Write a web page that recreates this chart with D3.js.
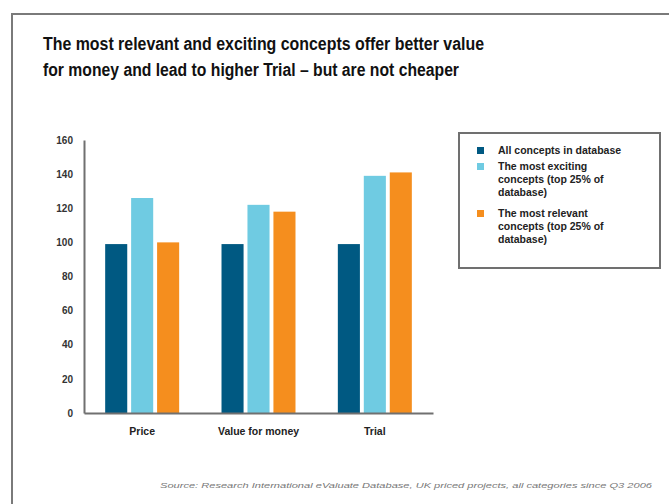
<!DOCTYPE html>
<html>
<head>
<meta charset="utf-8">
<script src="https://cdn.jsdelivr.net/npm/d3@7"></script>
<style>
  html, body { margin: 0; padding: 0; background: #fff; }
  svg { display: block; font-family: "Liberation Sans", Arial, Helvetica, sans-serif; }
</style>
</head>
<body>
<svg id="chart" width="669" height="504"></svg>
<script>
// Measures compared across concept groups (index: database average = 100)
const categories = ["Price", "Value for money", "Trial"];
const seriesNames = [
  "All concepts in database",
  "The most exciting concepts (top 25% of database)",
  "The most relevant concepts (top 25% of database)"
];
const allConcepts = [99, 99, 99];
const mostExciting = [126, 122, 139];
const mostRelevant = [100, 118, 141];
const yTicks = [0, 20, 40, 60, 80, 100, 120, 140, 160];

const legendLines = [
  ["All concepts in database"],
  ["The most exciting", "concepts (top 25% of", "database)"],
  ["The most relevant", "concepts (top 25% of", "database)"]
];
const titleLines = [
  "The most relevant and exciting concepts offer better value",
  "for money and lead to higher Trial \u2013 but are not cheaper"
];
const sourceText = "Source: Research International eValuate Database, UK priced projects, all categories since Q3 2006";

const colors = ["#005982", "#6fcbe2", "#f58e1e"];
const values = [allConcepts, mostExciting, mostRelevant];

const svg = d3.select("#chart");

// Slide frame
svg.append("path")
  .attr("d", "M12,700 L12,14 L700,14")
  .attr("fill", "none")
  .attr("stroke", "#7a7a7a")
  .attr("stroke-width", 2);

// Title
const titleWidths = [441, 416];
svg.append("g").selectAll("text")
  .data(titleLines)
  .join("text")
  .attr("x", 43)
  .attr("y", (d, i) => 50 + i * 26)
  .attr("font-size", 17.5)
  .attr("font-weight", "bold")
  .attr("fill", "#111")
  .attr("textLength", (d, i) => titleWidths[i])
  .attr("lengthAdjust", "spacingAndGlyphs")
  .text(d => d);

// Scales
const plotLeft = 84, plotRight = 433, plotTop = 140, plotBottom = 413;
const x0 = d3.scaleBand()
  .domain(categories)
  .range([plotLeft, plotRight])
  .paddingInner(0.364)
  .paddingOuter(0.182);
const x1 = d3.scaleBand()
  .domain(d3.range(seriesNames.length))
  .range([0, x0.bandwidth()])
  .paddingInner(0.15);
const y = d3.scaleLinear()
  .domain([0, 160])
  .range([plotBottom, plotTop]);

// Bars
const groups = svg.append("g")
  .selectAll("g")
  .data(categories)
  .join("g")
  .attr("transform", d => `translate(${x0(d)},0)`);

groups.selectAll("rect")
  .data((d, ci) => values.map((v, si) => ({ si, v: v[ci] })))
  .join("rect")
  .attr("x", d => x1(d.si))
  .attr("width", x1.bandwidth())
  .attr("y", d => y(d.v))
  .attr("height", d => y(0) - y(d.v))
  .attr("fill", d => colors[d.si]);

// Y axis
const yAxis = d3.axisLeft(y).tickValues(yTicks).tickSize(0).tickPadding(11);
const gy = svg.append("g")
  .attr("transform", `translate(${plotLeft},0)`)
  .call(yAxis);
gy.select(".domain").attr("stroke", "#707070").attr("stroke-width", 2);
gy.selectAll("text")
  .attr("font-size", 10)
  .attr("font-weight", "bold")
  .attr("fill", "#333")
  .style("font-family", "'Liberation Sans', Arial, sans-serif");

// X axis
const xAxis = d3.axisBottom(x0).tickSize(0).tickPadding(15);
const gx = svg.append("g")
  .attr("transform", `translate(0,${plotBottom})`)
  .call(xAxis);
gx.select(".domain").attr("stroke", "#707070").attr("stroke-width", 2);
gx.selectAll("text")
  .attr("font-size", 10.5)
  .attr("font-weight", "bold")
  .attr("fill", "#222")
  .style("font-family", "'Liberation Sans', Arial, sans-serif");

// Legend
const legend = svg.append("g");
legend.append("rect")
  .attr("x", 459).attr("y", 133)
  .attr("width", 201).attr("height", 135)
  .attr("fill", "#fff")
  .attr("stroke", "#707070")
  .attr("stroke-width", 2);

const legendTops = [154, 170, 217];
seriesNames.forEach((name, i) => {
  legend.append("rect")
    .attr("x", 477).attr("y", legendTops[i] - 7)
    .attr("width", 7).attr("height", 7)
    .attr("fill", colors[i]);
  const t = legend.append("text")
    .attr("font-size", 10.5)
    .attr("font-weight", "bold")
    .attr("fill", "#222");
  legendLines[i].forEach((line, j) => {
    t.append("tspan")
      .attr("x", 498)
      .attr("y", legendTops[i] + j * 13)
      .text(line);
  });
});

// Source note
svg.append("text")
  .attr("x", 160)
  .attr("y", 488)
  .attr("font-size", 8)
  .attr("font-style", "italic")
  .attr("fill", "#777")
  .attr("textLength", 492)
  .attr("lengthAdjust", "spacingAndGlyphs")
  .text(sourceText);
</script>
</body>
</html>
